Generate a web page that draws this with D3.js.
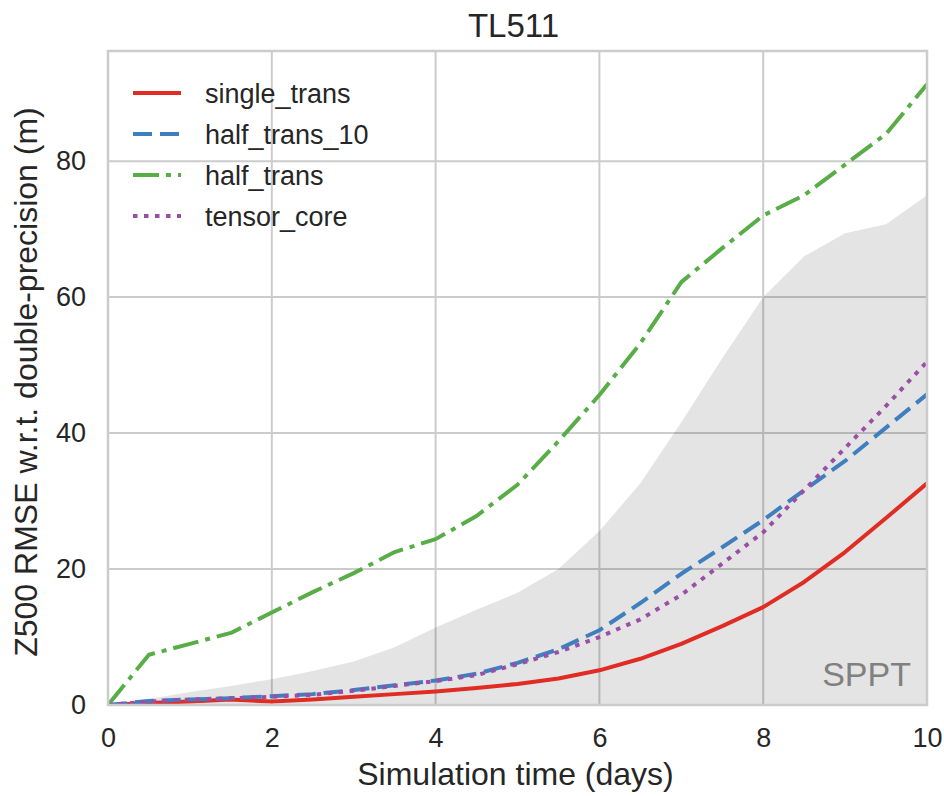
<!DOCTYPE html>
<html>
<head>
<meta charset="utf-8">
<script src="https://cdn.jsdelivr.net/npm/d3@7"></script>
<style>
  body { margin: 0; background: #fff; }
  text { font-family: "Liberation Sans", Arial, Helvetica, sans-serif; fill: #262626; }
</style>
</head>
<body>
<script>
// simulation time (days)
const days = [0, 0.5, 1, 1.5, 2, 2.5, 3, 3.5, 4, 4.5, 5, 5.5, 6, 6.5, 7, 7.5, 8, 8.5, 9, 9.5, 10];

// Z500 RMSE (m) for each run
const singleTrans  = [0, 0.3, 0.5, 0.8, 0.5, 0.8, 1.2, 1.6, 2.0, 2.5, 3.1, 3.9, 5.1, 6.8, 9.0, 11.6, 14.4, 18.1, 22.5, 27.5, 32.6];
const halfTrans10  = [0, 0.6, 0.8, 1.0, 1.3, 1.6, 2.2, 2.9, 3.6, 4.6, 6.2, 8.2, 11.0, 15.0, 19.3, 23.2, 27.2, 31.6, 35.9, 40.8, 45.7];
const halfTrans    = [0, 7.4, 9.0, 10.6, 13.6, 16.6, 19.4, 22.5, 24.4, 27.8, 32.4, 38.8, 45.6, 53.2, 62.2, 67.2, 72.0, 75.0, 79.5, 84.0, 91.3];
const tensorCore   = [0, 0.5, 0.8, 1.0, 1.2, 1.5, 2.1, 2.8, 3.5, 4.4, 6.0, 7.8, 10.0, 12.6, 16.2, 20.8, 25.4, 31.6, 37.8, 44.0, 50.5];

// SPPT spread (upper edge of shaded area)
const spptUpper    = [0, 0.9, 1.9, 2.8, 3.8, 5.0, 6.4, 8.5, 11.4, 14.0, 16.5, 20.0, 25.6, 32.6, 41.6, 51.0, 60.0, 66.0, 69.4, 70.7, 75.0];

const xTicks = [0, 2, 4, 6, 8, 10];
const yTicks = [0, 20, 40, 60, 80];

const series = [
  { name: "single_trans",  values: singleTrans, color: "#e02c22", dash: null },
  { name: "half_trans_10", values: halfTrans10, color: "#3f7fc0", dash: "19,8" },
  { name: "half_trans",    values: halfTrans,   color: "#58ad47", dash: "26,7,5,7" },
  { name: "tensor_core",   values: tensorCore,  color: "#9a4ea6", dash: "4.5,6.5" }
];

const w = 944, h = 796;
const margin = { top: 51, right: 17, bottom: 91, left: 108 };
const innerW = w - margin.left - margin.right;
const innerH = h - margin.top - margin.bottom;

const svg = d3.select("body").append("svg")
  .attr("width", w)
  .attr("height", h)
  .attr("viewBox", [0, 0, w, h]);

const g = svg.append("g")
  .attr("transform", `translate(${margin.left},${margin.top})`);

const xScale = d3.scaleLinear().domain([0, 10]).range([0, innerW]);
const yScale = d3.scaleLinear().domain([0, 96.2]).range([innerH, 0]);

// grid
g.append("g").selectAll("line").data(xTicks).join("line")
  .attr("x1", d => xScale(d)).attr("x2", d => xScale(d))
  .attr("y1", 0).attr("y2", innerH)
  .attr("stroke", "#cccccc").attr("stroke-width", 2);
g.append("g").selectAll("line").data(yTicks).join("line")
  .attr("x1", 0).attr("x2", innerW)
  .attr("y1", d => yScale(d)).attr("y2", d => yScale(d))
  .attr("stroke", "#cccccc").attr("stroke-width", 2);

// clip
svg.append("defs").append("clipPath").attr("id", "plot")
  .append("rect").attr("width", innerW).attr("height", innerH);
const plot = g.append("g").attr("clip-path", "url(#plot)");

// SPPT shaded region
const area = d3.area()
  .x((d, i) => xScale(days[i]))
  .y0(yScale(0))
  .y1(d => yScale(d));
plot.append("path")
  .datum(spptUpper)
  .attr("d", area)
  .attr("fill", "#000")
  .attr("fill-opacity", 0.105);

// lines
const line = d3.line()
  .x((d, i) => xScale(days[i]))
  .y(d => yScale(d));
plot.selectAll(".series").data(series).join("path")
  .attr("class", "series")
  .attr("d", d => line(d.values))
  .attr("fill", "none")
  .attr("stroke", d => d.color)
  .attr("stroke-width", 4)
  .attr("stroke-linejoin", "round")
  .attr("stroke-dasharray", d => d.dash);

// frame
g.append("rect")
  .attr("width", innerW).attr("height", innerH)
  .attr("fill", "none").attr("stroke", "#cccccc").attr("stroke-width", 2.5);

// SPPT label
g.append("text")
  .attr("x", innerW - 16).attr("y", innerH - 19)
  .attr("text-anchor", "end")
  .style("font-size", "34px")
  .style("fill", "#808080")
  .text("SPPT");

// axes
const xAxis = d3.axisBottom(xScale).tickValues(xTicks).tickSize(0).tickPadding(23);
const yAxis = d3.axisLeft(yScale).tickValues(yTicks).tickSize(0).tickPadding(22);
const xAxisG = g.append("g").attr("transform", `translate(0,${innerH})`).call(xAxis);
const yAxisG = g.append("g").call(yAxis);
[xAxisG, yAxisG].forEach(a => {
  a.select(".domain").remove();
  a.selectAll("text").style("font-size", "27px").style("font-family", null).attr("fill", null);
});

// axis labels and title
svg.append("text")
  .attr("x", margin.left + innerW / 2 - 2).attr("y", 785)
  .attr("text-anchor", "middle")
  .style("font-size", "32px")
  .text("Simulation time (days)");
svg.append("text")
  .attr("transform", `translate(37,382) rotate(-90)`)
  .attr("text-anchor", "middle")
  .style("font-size", "32px")
  .text("Z500 RMSE w.r.t. double-precision (m)");
svg.append("text")
  .attr("x", margin.left + innerW / 2 - 4).attr("y", 37)
  .attr("text-anchor", "middle")
  .style("font-size", "33px")
  .text("TL511");

// legend
const legend = g.append("g").attr("transform", "translate(25,42)");
const items = legend.selectAll("g").data(series).join("g")
  .attr("transform", (d, i) => `translate(0,${i * 41})`);
items.append("line")
  .attr("x1", 0).attr("x2", 48)
  .attr("stroke", d => d.color)
  .attr("stroke-width", 4)
  .attr("stroke-dasharray", d => d.dash);
items.append("text")
  .attr("x", 72).attr("y", 9.5)
  .style("font-size", "27px")
  .text(d => d.name);
</script>
</body>
</html>
